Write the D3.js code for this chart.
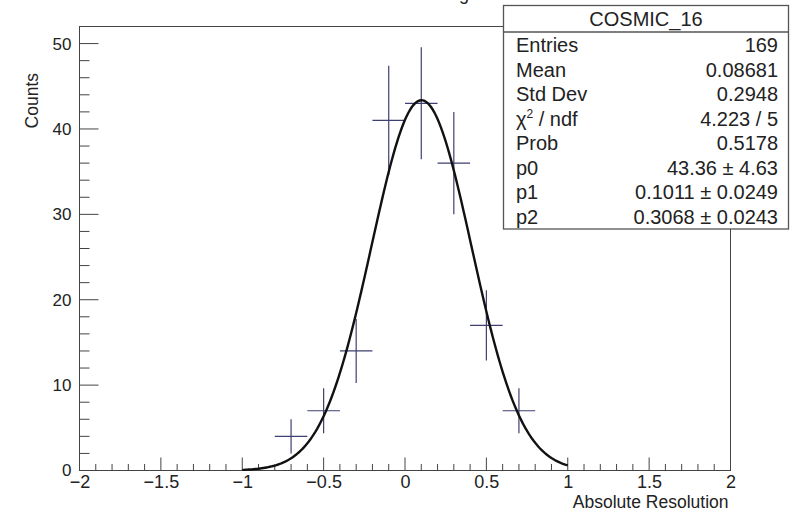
<!DOCTYPE html>
<html><head><meta charset="utf-8">
<script src="https://cdn.jsdelivr.net/npm/d3@7"></script>
<style>body{margin:0;background:#fff;} svg{display:block;} text{font-family:"Liberation Sans",Arial,sans-serif;}</style>
</head><body><svg id="c" width="790" height="512"></svg>
<script>
const binCenters = [-0.7, -0.5, -0.3, -0.1, 0.1, 0.3, 0.5, 0.7];
const binCounts = [4, 7, 14, 41, 43, 36, 17, 7];
const binHalfWidth = 0.1;
const fitParams = {p0: 43.36, p1: 0.1011, p2: 0.3068};
const fitRange = [-1, 1];
const xTickValues = [-2, -1.5, -1, -0.5, 0, 0.5, 1, 1.5, 2];
const yTickValues = [0, 10, 20, 30, 40, 50];
const statLabels = ["Entries", "Mean", "Std Dev", "χ2 / ndf", "Prob", "p0", "p1", "p2"];
const statValues = ["169", "0.08681", "0.2948", "4.223 / 5", "0.5178", "43.36 ± 4.63", "0.1011 ± 0.0249", "0.3068 ± 0.0243"];

const svg = d3.select("#c");
const L = 79.5, R = 730.5, T = 26.5, B = 470.5;
const x = d3.scaleLinear().domain([-2, 2]).range([L, R]);
const y = d3.scaleLinear().domain([0, 52]).range([B, T]);
const axisCol = "#444";
const txtCol = "#222";
const fam = "Liberation Sans, Arial, sans-serif";

// title (mostly cut off at the top edge, as in the reference)
svg.append("text").attr("x", 365).attr("y", 0).attr("text-anchor", "middle")
  .attr("font-size", 18).attr("fill", txtCol).text("Absolute Resolution fitting");

// frame
svg.append("rect").attr("x", L).attr("y", T).attr("width", R - L).attr("height", B - T)
  .attr("fill", "none").attr("stroke", axisCol).attr("stroke-width", 1);

// x ticks
d3.range(-2, 2.0001, 0.1).forEach(v => {
  const major = Math.abs(v * 2 - Math.round(v * 2)) < 1e-6;
  svg.append("line").attr("x1", x(v)).attr("x2", x(v)).attr("y1", B).attr("y2", B - (major ? 13 : 6.5))
    .attr("stroke", axisCol).attr("stroke-width", 1);
});
const xAxis = d3.axisBottom(x).tickValues(xTickValues).tickSize(0).tickPadding(5)
  .tickFormat(d => d3.format("")(d).replace("-", "−"));
const gx = svg.append("g").attr("transform", `translate(0,${B})`).call(xAxis);
gx.select(".domain").remove();
gx.selectAll("text").attr("font-size", 18).attr("fill", txtCol).attr("font-family", fam);

// y ticks
d3.range(0, 52.0001, 2).forEach(v => {
  const major = v % 10 === 0;
  svg.append("line").attr("x1", L).attr("x2", L + (major ? 19 : 10)).attr("y1", y(v)).attr("y2", y(v))
    .attr("stroke", axisCol).attr("stroke-width", 1);
});
const yAxis = d3.axisLeft(y).tickValues(yTickValues).tickSize(0).tickPadding(8);
const gy = svg.append("g").attr("transform", `translate(${L},0)`).call(yAxis);
gy.select(".domain").remove();
gy.selectAll("text").attr("font-size", 17).attr("fill", txtCol).attr("font-family", fam);

// axis titles
svg.append("text").attr("x", R - 2).attr("y", 508).attr("text-anchor", "end")
  .attr("font-size", 17.5).attr("fill", txtCol).text("Absolute Resolution");
svg.append("text").attr("transform", "translate(38,73) rotate(-90)").attr("text-anchor", "end")
  .attr("font-size", 17.5).attr("fill", txtCol).text("Counts");

// data crosses
const ptCol = "#3d4070";
const pts = svg.append("g");
binCenters.forEach((c, i) => {
  const n = binCounts[i], e = Math.sqrt(n);
  pts.append("line").attr("x1", x(c - binHalfWidth)).attr("x2", x(c + binHalfWidth))
    .attr("y1", y(n)).attr("y2", y(n)).attr("stroke", ptCol).attr("stroke-width", 1.2);
  pts.append("line").attr("x1", x(c)).attr("x2", x(c))
    .attr("y1", y(n - e)).attr("y2", y(n + e)).attr("stroke", ptCol).attr("stroke-width", 1.2);
});

// fit curve (gaussian with the fitted parameters shown in the stat box)
const gaus = v => fitParams.p0 * Math.exp(-0.5 * Math.pow((v - fitParams.p1) / fitParams.p2, 2));
const xs = d3.range(fitRange[0], fitRange[1] + 1e-9, 0.01);
svg.append("path").datum(xs)
  .attr("d", d3.line().x(d => x(d)).y(d => y(gaus(d))))
  .attr("fill", "none").attr("stroke", "#111").attr("stroke-width", 2.4);

// stat box
const bx = 503.5, by = 5.5, bw = 285, bh = 223.5;
svg.append("rect").attr("x", bx).attr("y", by).attr("width", bw).attr("height", bh)
  .attr("fill", "#fff").attr("stroke", "#555").attr("stroke-width", 1.3);
svg.append("line").attr("x1", bx).attr("x2", bx + bw).attr("y1", 32).attr("y2", 32)
  .attr("stroke", "#555").attr("stroke-width", 1.3);
svg.append("text").attr("x", bx + bw / 2).attr("y", 26).attr("text-anchor", "middle")
  .attr("font-size", 20).attr("fill", txtCol).text("COSMIC_16");
statLabels.forEach((lab, i) => {
  const yy = 52 + i * 24.5;
  const t = svg.append("text").attr("x", 516).attr("y", yy).attr("font-size", 20).attr("fill", txtCol);
  if (lab.startsWith("χ2")) {
    t.text("χ");
    t.append("tspan").attr("font-size", 12).attr("dy", -8).text("2");
    t.append("tspan").attr("dy", 8).text(" / ndf");
  } else t.text(lab);
  svg.append("text").attr("x", 778).attr("y", yy).attr("text-anchor", "end")
    .attr("font-size", 20).attr("fill", txtCol).text(statValues[i]);
});
</script></body></html>
